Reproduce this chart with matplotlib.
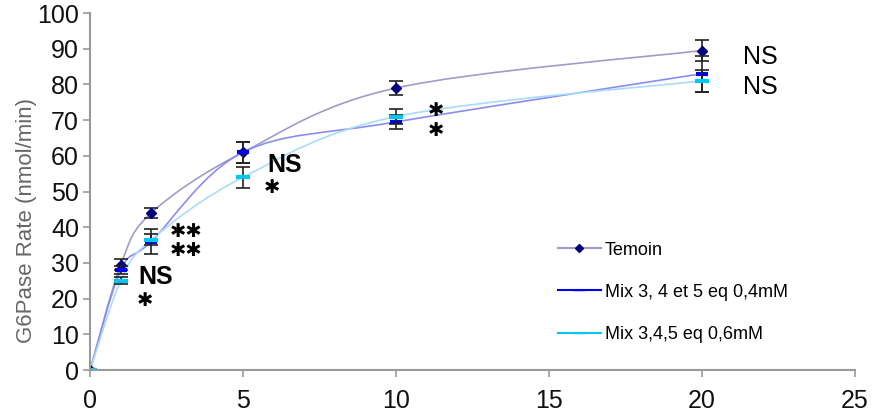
import numpy as np
import matplotlib
matplotlib.use('Agg')
import matplotlib.pyplot as plt
from matplotlib.path import Path
from matplotlib.patches import PathPatch

plt.rcParams['font.family'] = ['Liberation Sans', 'DejaVu Sans']

# data
time = [0, 1, 2, 5, 10, 20]
temoin = [0, 29.5, 44, 61, 79, 89.5]
mix04 = [0, 28, 36, 61, 69.5, 83]
mix06 = [0, 25, 36.5, 54, 71, 81]
temoin_err = [0, 1.5, 1.5, 3, 2, 3]
mix04_err = [0, 1, 3.5, 3, 2, 5]
mix06_err = [0, 1, 1.5, 3, 2, 3]

labels = ['Temoin', 'Mix 3, 4 et 5 eq 0,4mM', 'Mix 3,4,5 eq 0,6mM']


def smooth_path(x, y):
    # Catmull-Rom style smoothing, like an Excel "smoothed line"
    p = np.column_stack([x, y]).astype(float)
    pts = np.vstack([p[0], p, p[-1]])
    verts = [p[0]]
    codes = [Path.MOVETO]
    for i in range(1, len(pts) - 2):
        c1 = pts[i] + (pts[i + 1] - pts[i - 1]) / 6
        c2 = pts[i + 1] - (pts[i + 2] - pts[i]) / 6
        verts += [c1, c2, pts[i + 1]]
        codes += [Path.CURVE4] * 3
    return Path(verts, codes)


fig = plt.figure(figsize=(8.84, 4.2), dpi=100)
ax = fig.add_axes([0.102, 0.119, 0.865, 0.85])

series = [
    (temoin, temoin_err, '#a09cc8', '#000080', 'D', 5),
    (mix04, mix04_err, '#8c8cf0', '#0000ee', '_', 9),
    (mix06, mix06_err, '#a8dcf8', '#00c8f0', '_', 10),
]
for (vals, err, lc, mc, mk, ms), lab in zip(series, labels):
    ax.add_patch(PathPatch(smooth_path(time, vals), fill=False, edgecolor=lc, lw=1.2))
    ax.errorbar(time[1:], vals[1:], yerr=err[1:], fmt='none', ecolor='#222222',
                elinewidth=1.2, capsize=5, capthick=1.2)
    ax.plot(time, vals, linestyle='none', marker=mk, color=mc, markersize=ms,
            markeredgewidth=3 if mk == '_' else 1)
    ax.plot([], [], color=lc if mk == 'D' else mc, lw=1.5, marker=mk, markersize=ms - 1,
            markerfacecolor=mc, markeredgecolor=mc, label=lab)

# significance marks
star = dict(fontsize=14, family=['DejaVu Sans'], ha='center', va='center')
ns_b = dict(fontsize=18, fontweight='bold', ha='center', va='center')
ax.text(2.15, 26, 'NS', **ns_b)
ax.text(1.8, 19.5, '\u2731', **star)
ax.text(3.15, 38.7, '\u2731\u2731', **star)
ax.text(3.15, 33.6, '\u2731\u2731', **star)
ax.text(6.35, 57.4, 'NS', **ns_b)
ax.text(5.95, 51, '\u2731', **star)
ax.text(11.3, 72.8, '\u2731', **star)
ax.text(11.3, 67, '\u2731', **star)
ax.text(21.9, 87.7, 'NS', fontsize=18, ha='center', va='center')
ax.text(21.9, 79.3, 'NS', fontsize=18, ha='center', va='center')

ax.set_xlim(0, 25)
ax.set_ylim(0, 100)
ax.set_xticks([0, 5, 10, 15, 20, 25])
ax.set_yticks(range(0, 101, 10))
ax.tick_params(axis='both', labelsize=18, colors='#999999', labelcolor='#111111',
               length=5, width=1.2)
ax.tick_params(axis='x', pad=9)
ax.tick_params(axis='y', pad=3)
for s in ['top', 'right']:
    ax.spines[s].set_visible(False)
for s in ['left', 'bottom']:
    ax.spines[s].set_color('#999999')
    ax.spines[s].set_linewidth(1.5)
ax.set_ylabel('G6Pase Rate (nmol/min)', fontsize=16, color='#666666')
ax.yaxis.set_label_coords(-0.069, 0.42)

ax.legend(loc='lower left', bbox_to_anchor=(0.59, 0.03), frameon=False, fontsize=13,
          handlelength=2.4, labelspacing=1.4, handletextpad=0.2)

fig.savefig('out.png', dpi=100)
